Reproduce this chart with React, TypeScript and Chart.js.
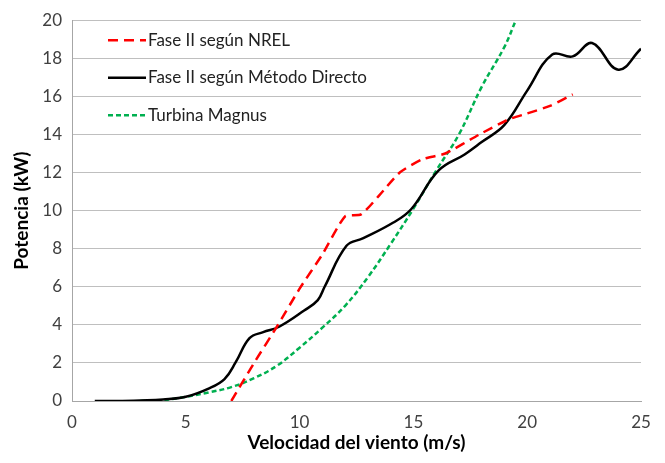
import React, { useEffect, useRef } from "react";
import { Chart, registerables } from "chart.js";

Chart.register(...registerables);

const nrelX = [7, 8, 9, 10, 11, 12, 12.7, 13.5, 14.4, 15.4, 16.4, 17.9, 19.2, 20, 21, 22];
const nrelY = [0, 2.0, 3.9, 5.9, 7.7, 9.7, 9.8, 10.8, 12.0, 12.7, 13.0, 14.0, 14.8, 15.1, 15.5, 16.1];

const directoX = [1, 2, 3, 4, 5, 6, 6.7, 7.2, 7.8, 8.4, 9.1, 10.2, 10.8, 11.1, 12.06, 12.8, 14.1, 14.9, 16.1, 17.25, 18, 19, 20, 21.1, 22, 22.85, 24, 25];
const directoY = [0, 0, 0.03, 0.08, 0.22, 0.65, 1.15, 2.05, 3.3, 3.62, 3.9, 4.75, 5.3, 6.0, 8.15, 8.55, 9.36, 10.07, 12.1, 12.95, 13.6, 14.5, 16.3, 18.2, 18.1, 18.8, 17.4, 18.5];

const magnusX = [3, 4, 5, 6, 7, 8, 9, 10, 11, 12, 13, 14, 15, 16, 17, 18, 19, 19.5];
const magnusY = [0, 0.05, 0.22, 0.45, 0.73, 1.2, 1.85, 2.8, 3.85, 5.0, 6.5, 8.25, 10.1, 12.1, 14.0, 16.5, 18.6, 20];

const seriesLabels = ["Fase II según NREL", "Fase II según Método Directo", "Turbina Magnus"];
const xTitle = "Velocidad del viento (m/s)";
const yTitle = "Potencia (kW)";

const pts = (xs: number[], ys: number[]) => xs.map((x, i) => ({ x, y: ys[i] }));

const FONT = "Lato, 'Open Sans', sans-serif";

const legendPlugin = {
  id: "insideLegend",
  afterDraw(chart: any) {
    const ctx = chart.ctx;
    const area = chart.chartArea;
    ctx.save();
    chart.data.datasets.forEach((ds: any, i: number) => {
      const y = area.top + 20 + i * 37.5;
      ctx.beginPath();
      ctx.strokeStyle = ds.borderColor;
      ctx.lineWidth = ds.borderWidth;
      ctx.setLineDash(ds.borderDash || []);
      ctx.moveTo(108, y);
      ctx.lineTo(146, y);
      ctx.stroke();
      ctx.setLineDash([]);
      ctx.fillStyle = "#222";
      ctx.font = `17px ${FONT}`;
      ctx.textBaseline = "middle";
      ctx.textAlign = "left";
      ctx.fillText(ds.label, 148, y);
    });
    ctx.restore();
  },
};

export default function App() {
  const ref = useRef<HTMLCanvasElement | null>(null);
  useEffect(() => {
    document.body.style.margin = "0";
    const chart = new Chart(ref.current!, {
      type: "line",
      data: {
        datasets: [
          {
            label: seriesLabels[0],
            data: pts(nrelX, nrelY),
            borderColor: "#ff0000",
            borderWidth: 2.5,
            borderDash: [10, 6],
            pointRadius: 0,
            tension: 0.2,
            fill: false,
          },
          {
            label: seriesLabels[1],
            data: pts(directoX, directoY),
            borderColor: "#000000",
            borderWidth: 2.5,
            pointRadius: 0,
            tension: 0.4,
            fill: false,
          },
          {
            label: seriesLabels[2],
            data: pts(magnusX, magnusY),
            borderColor: "#00b050",
            borderWidth: 2.5,
            borderDash: [5, 3],
            pointRadius: 0,
            tension: 0.4,
            fill: false,
          },
        ],
      },
      options: {
        animation: false,
        responsive: false,
        layout: { padding: { top: 18, right: 24, left: 0, bottom: 0 } },
        plugins: { legend: { display: false }, tooltip: { enabled: false } },
        scales: {
          x: {
            type: "linear",
            min: 0,
            max: 25,
            ticks: { stepSize: 5, color: "#404040", font: { family: FONT, size: 17 }, padding: 11 },
            grid: { display: false, drawTicks: false },
            border: { display: true, color: "#a6a6a6" },
            title: { display: true, text: xTitle, color: "#000", font: { family: FONT, size: 19, weight: "bold" }, padding: { top: 9, bottom: 9 } },
            afterFit: (s: any) => { s.height = 62; },
          },
          y: {
            min: 0,
            max: 20,
            ticks: { stepSize: 2, color: "#404040", font: { family: FONT, size: 17 }, padding: 10 },
            grid: { color: "#bfbfbf", lineWidth: 1, drawTicks: false },
            border: { display: true, color: "#a6a6a6" },
            title: { display: true, text: yTitle, color: "#000", font: { family: FONT, size: 19, weight: "bold" }, padding: { top: 10, bottom: 10 } },
            afterFit: (s: any) => { s.width = 72; },
          },
        },
      },
      plugins: [legendPlugin],
    } as any);
    return () => chart.destroy();
  }, []);
  return <canvas ref={ref} width={665} height={463} />;
}
